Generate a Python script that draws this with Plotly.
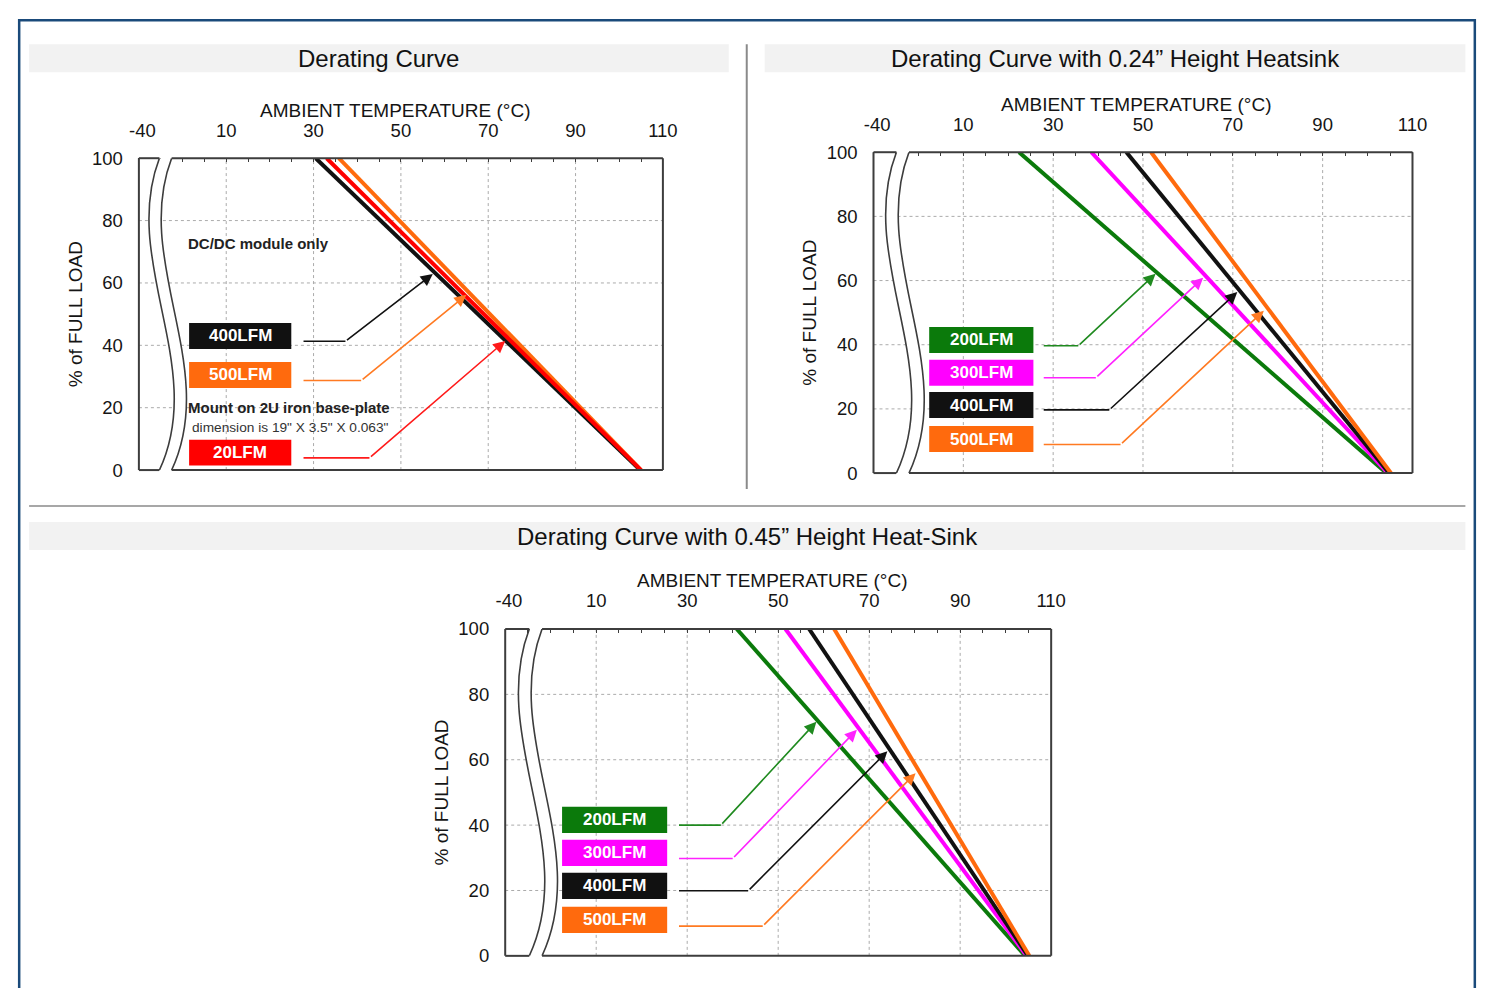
import plotly.graph_objects as go

# Page geometry: the body keeps the browser's default 8 px margin, so the figure is
# 16 px smaller than the window.  The photographed picture shows the page as
# picture = SHOT_A + SHOT_S * page, so reference pixels are mapped back through it.
WIN_W, WIN_H = 1499, 996
OFF = 8
W, H = WIN_W - 2 * OFF, WIN_H - 2 * OFF
SHOT_AX, SHOT_SX = 9.0, 0.985
SHOT_AY, SHOT_SY = 9.9, 0.979
FONT = "Liberation Sans, Arial, sans-serif"

# ---------------- data ----------------
LOAD_PTS = [100, 0]                      # % of full load at both ends of every derating line
X_TICK_VALS = [-9.2, 10, 30, 50, 70, 90, 110]
X_TICK_TEXT = ["-40", "10", "30", "50", "70", "90", "110"]
Y_TICK_VALS = [0, 20, 40, 60, 80, 100]
GRID_X = [10, 30, 50, 70, 90]
GRID_Y = [20, 40, 60, 80]

# Panel 1 - Derating Curve
p1_names = ["400LFM", "500LFM", "20LFM"]
p1_t_full = [30.5, 35.8, 33.0]          # ambient temperature (°C) where derating starts (100 %)
p1_t_zero = [104.8, 105.0, 105.0]       # ambient temperature (°C) at 0 % load

# Panel 2 - with 0.24" heatsink
p2_names = ["200LFM", "300LFM", "400LFM", "500LFM"]
p2_t_full = [22.4, 38.5, 46.3, 51.8]
p2_t_zero = [104.2, 104.5, 104.8, 105.2]

# Panel 3 - with 0.45" heat-sink
p3_names = ["200LFM", "300LFM", "400LFM", "500LFM"]
p3_t_full = [40.9, 51.6, 56.8, 62.3]
p3_t_zero = [104.3, 104.6, 104.9, 105.2]

# ---------------- styles / layout ----------------
COLORS = {"20LFM": "#ff0000", "200LFM": "#0b7a0b", "300LFM": "#ff00ff",
          "400LFM": "#111111", "500LFM": "#ff6a0d"}
ARROW_COLORS = {"20LFM": "#ff1a1a", "200LFM": "#1f8a1f", "300LFM": "#ff22ff",
                "400LFM": "#111111", "500LFM": "#ff7a22"}


def px_x(X):
    f = (X - SHOT_AX) / SHOT_SX - OFF
    return min(max(f, 0.0), W - 1.0) / W


def px_y(Y):
    f = (Y - SHOT_AY) / SHOT_SY - OFF
    return 1 - min(max(f, 0.0), H - 1.0) / H


panels = [
    dict(names=p1_names, t_full=p1_t_full, t_zero=p1_t_zero,
         px=(138, 663, 157, 469), bar=(28, 729, 43, 71), title="Derating Curve",
         xtitle_pos=(395, 109),
         lab_x=(1.5, 24.9), lab_y=[43.0, 30.5, 5.6], lab_h=8.3,
         # (start x, elbow x, start y, head x, head y)
         arrows=[(27.7, 37.3, 41.3, 57.3, 62.9), (27.7, 40.9, 28.7, 65.0, 56.2),
                 (27.7, 42.8, 3.9, 73.9, 41.4)],
         brk=-5.3),
    dict(names=p2_names, t_full=p2_t_full, t_zero=p2_t_zero,
         px=(874, 1414, 151, 472), bar=(765, 1467, 43, 71),
         title="Derating Curve with 0.24\u201d Height Heatsink",
         xtitle_pos=(1137, 103),
         lab_x=(2.4, 25.6), lab_y=[41.5, 31.3, 21.2, 10.6], lab_h=8.1,
         arrows=[(27.9, 35.6, 39.7, 52.8, 62.1), (27.9, 39.5, 29.7, 63.4, 60.9),
                 (27.9, 42.5, 19.7, 71.0, 56.4), (27.9, 45.0, 8.9, 76.9, 50.6)],
         brk=-4.9),
    dict(names=p3_names, t_full=p3_t_full, t_zero=p3_t_zero,
         px=(505, 1052, 628, 955), bar=(28, 1467, 521, 549),
         title="Derating Curve with 0.45\u201d Height Heat-Sink",
         xtitle_pos=(772, 579),
         lab_x=(2.5, 25.6), lab_y=[41.6, 31.5, 21.4, 11.0], lab_h=8.0,
         arrows=[(28.2, 37.4, 40.0, 58.4, 71.6), (28.2, 40.0, 29.8, 67.3, 69.2),
                 (28.2, 43.4, 19.9, 74.0, 62.6), (28.2, 46.6, 9.1, 80.2, 55.9)],
         brk=-4.7),
]

XMIN, XMAX = -10, 110
BRK_GAP = 2.8
FRAME = "#3d3d3d"
TXT = "#151515"

fig = go.Figure()
shapes, annotations = [], []
layout_axes = {}

for i, p in enumerate(panels, start=1):
    xs = "x" if i == 1 else f"x{i}"
    ys = "y" if i == 1 else f"y{i}"
    xa = "xaxis" if i == 1 else f"xaxis{i}"
    ya = "yaxis" if i == 1 else f"yaxis{i}"
    l, r, t, b = p["px"]

    layout_axes[xa] = dict(
        domain=[px_x(l), px_x(r)], anchor=ys, range=[XMIN, XMAX], side="top",
        tickvals=X_TICK_VALS, ticktext=X_TICK_TEXT, ticks="", showgrid=False,
        showline=False, zeroline=False, ticklabelstandoff=17,
        tickfont=dict(family=FONT, size=18.5, color=TXT),
        minor=dict(ticks="inside", ticklen=4, tickwidth=1, tickcolor=FRAME,
                   dtick=5, tick0=0, showgrid=False),
        fixedrange=True)
    layout_axes[ya] = dict(
        domain=[px_y(b), px_y(t)], anchor=xs, range=[0, 100],
        tickvals=Y_TICK_VALS, ticks="", showgrid=False, showline=False,
        zeroline=False, ticklabelstandoff=15,
        tickfont=dict(family=FONT, size=18.5, color=TXT),
        title=dict(text="% of FULL LOAD", standoff=4,
                   font=dict(family=FONT, size=19, color=TXT)),
        fixedrange=True)

    # x-axis title (placed at the reference position)
    tx, ty = p["xtitle_pos"]
    annotations.append(dict(x=px_x(tx), y=px_y(ty), xref="paper", yref="paper",
                            xanchor="center", yanchor="middle", showarrow=False,
                            text="AMBIENT TEMPERATURE (\u00b0C)",
                            font=dict(family=FONT, size=19, color=TXT)))

    # dotted grid
    for gx in GRID_X:
        shapes.append(dict(type="line", xref=xs, yref=ys, x0=gx, x1=gx, y0=0, y1=100,
                           line=dict(color="#ababab", width=1, dash="dot"), layer="between"))
    for gy in GRID_Y:
        shapes.append(dict(type="line", xref=xs, yref=ys, x0=XMIN, x1=XMAX, y0=gy, y1=gy,
                           line=dict(color="#ababab", width=1, dash="dot"), layer="between"))

    # derating lines
    for name, tf, tz in zip(p["names"], p["t_full"], p["t_zero"]):
        fig.add_trace(go.Scatter(x=[tf, tz], y=LOAD_PTS, mode="lines",
                                 line=dict(color=COLORS[name], width=4),
                                 xaxis=xs, yaxis=ys, showlegend=False, hoverinfo="skip"))

    # labels + arrows
    lx0, lx1 = p["lab_x"]
    for name, yc, (sx, ex, sy, hx, hy) in zip(p["names"], p["lab_y"], p["arrows"]):
        shapes.append(dict(type="rect", xref=xs, yref=ys, x0=lx0, x1=lx1,
                           y0=yc - p["lab_h"] / 2, y1=yc + p["lab_h"] / 2,
                           fillcolor=COLORS[name], line=dict(width=0), layer="above"))
        annotations.append(dict(x=(lx0 + lx1) / 2, y=yc, xref=xs, yref=ys,
                                xanchor="center", yanchor="middle", text=f"<b>{name}</b>",
                                showarrow=False, font=dict(family=FONT, size=17, color="white")))
        ac = ARROW_COLORS[name]
        fig.add_trace(go.Scatter(x=[sx, ex], y=[sy, sy], mode="lines",
                                 line=dict(color=ac, width=1.6), xaxis=xs, yaxis=ys,
                                 showlegend=False, hoverinfo="skip"))
        annotations.append(dict(x=hx, y=hy, ax=ex, ay=sy, xref=xs, yref=ys, axref=xs, ayref=ys,
                                text="", showarrow=True, arrowhead=2, arrowsize=1.5,
                                arrowwidth=1.6, arrowcolor=ac, standoff=0))

    # axis break (white gap + two wavy lines)
    x0 = p["brk"]
    x1 = x0 + BRK_GAP
    a, c = -9, 11
    fill = (f"M {x0},100 C {x0+a},67 {x0+c},33 {x0},0 L {x1},0 "
            f"C {x1+c},33 {x1+a},67 {x1},100 Z")
    shapes.append(dict(type="path", xref=xs, yref=ys, path=fill, fillcolor="white",
                       line=dict(width=0), layer="above"))
    for xx in (x0, x1):
        shapes.append(dict(type="path", xref=xs, yref=ys,
                           path=f"M {xx},100 C {xx+a},67 {xx+c},33 {xx},0",
                           line=dict(color=FRAME, width=1.6), layer="above"))

    # frame (domain coordinates, broken at the axis break)
    f0 = (x0 - XMIN) / (XMAX - XMIN)
    f1 = (x1 - XMIN) / (XMAX - XMIN)
    segs = [(0, 0, 0, 1), (0, 1, f0, 1), (f1, 1, 1, 1), (1, 1, 1, 0),
            (0, 0, f0, 0), (f1, 0, 1, 0)]
    for sx0, sy0, sx1, sy1 in segs:
        shapes.append(dict(type="line", xref=f"{xs} domain", yref=f"{ys} domain",
                           x0=sx0, y0=sy0, x1=sx1, y1=sy1,
                           line=dict(color=FRAME, width=2), layer="above"))

    # title bar
    bx0, bx1, by0, by1 = p["bar"]
    shapes.append(dict(type="rect", xref="paper", yref="paper", x0=px_x(bx0), x1=px_x(bx1),
                       y0=px_y(by1), y1=px_y(by0), fillcolor="#f2f2f2",
                       line=dict(width=0), layer="below"))
    annotations.append(dict(x=px_x((bx0 + bx1) / 2), y=px_y((by0 + by1) / 2),
                            xref="paper", yref="paper", xanchor="center", yanchor="middle",
                            text=p["title"], showarrow=False,
                            font=dict(family=FONT, size=24, color="#111")))

# panel-1 notes
annotations += [
    dict(x=0.8, y=72.5, xref="x", yref="y", xanchor="left", yanchor="middle", showarrow=False,
         text="<b>DC/DC module only</b>", font=dict(family=FONT, size=15, color="#222")),
    dict(x=0.8, y=20.2, xref="x", yref="y", xanchor="left", yanchor="middle", showarrow=False,
         text="<b>Mount on 2U iron base-plate</b>", font=dict(family=FONT, size=15, color="#222")),
    dict(x=1.7, y=13.8, xref="x", yref="y", xanchor="left", yanchor="middle", showarrow=False,
         text="dimension is 19\" X 3.5\" X 0.063\"", font=dict(family=FONT, size=13.7, color="#333")),
]

# separators and outer border
shapes += [
    dict(type="line", xref="paper", yref="paper", x0=px_x(747), x1=px_x(747),
         y0=px_y(488), y1=px_y(43), line=dict(color="#8a8a8a", width=2)),
    dict(type="line", xref="paper", yref="paper", x0=px_x(28), x1=px_x(1467),
         y0=px_y(505), y1=px_y(505), line=dict(color="#8a8a8a", width=1.5)),
    dict(type="rect", xref="paper", yref="paper", x0=1.2 / W, x1=1 - 1.2 / W,
         y0=-0.05, y1=1 - 1.2 / H, line=dict(color="#1a4a7a", width=2.5)),
]

fig.update_layout(
    width=W, height=H, autosize=False,
    margin=dict(l=0, r=0, t=0, b=0),
    paper_bgcolor="white", plot_bgcolor="white",
    shapes=shapes, annotations=annotations, hovermode=False,
    font=dict(family=FONT),
    **layout_axes,
)

fig.write_html("out.html", config={"displayModeBar": False})
